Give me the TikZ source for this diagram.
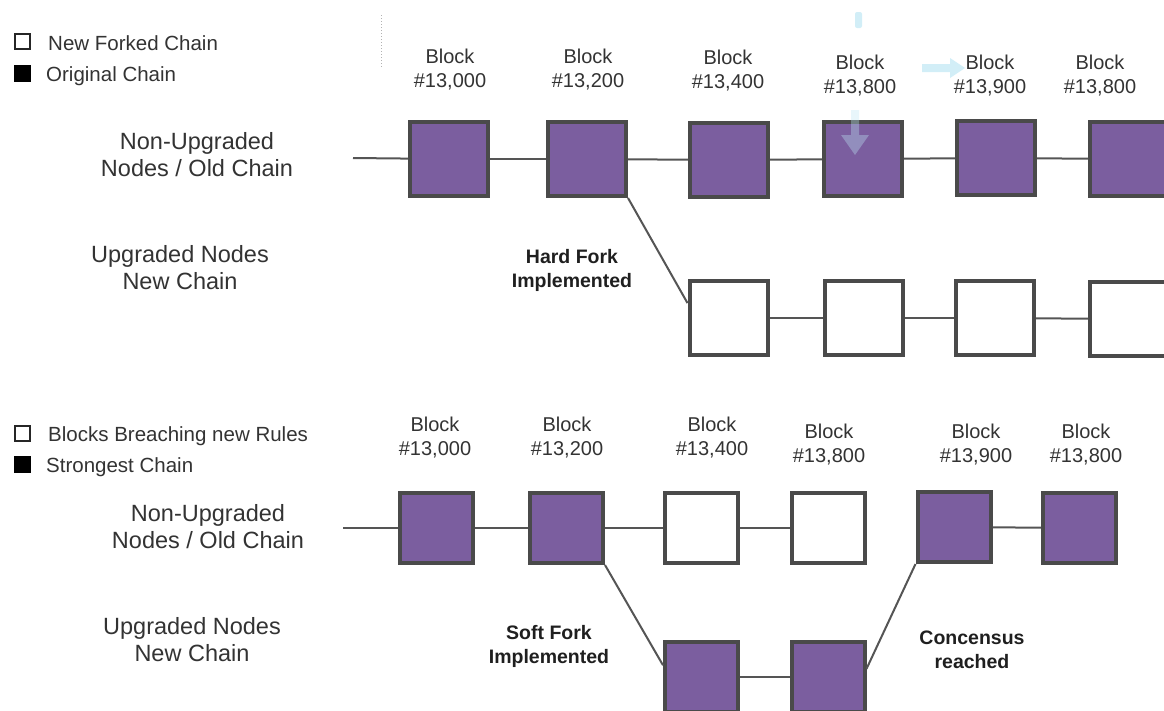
\documentclass[tikz,border=0pt]{standalone}
\usepackage{fontspec}
\setmainfont{Liberation Sans}
\definecolor{blk}{HTML}{7B5E9F}
\definecolor{bord}{HTML}{4A4A4A}
\definecolor{txt}{HTML}{333333}
\definecolor{lnk}{HTML}{555555}
\definecolor{ghost}{HTML}{BFE8F5}
\begin{document}
\begin{tikzpicture}[x=1pt,y=-1pt,
 full/.style={draw=bord,line width=4pt,fill=blk,minimum width=78pt,minimum height=74pt,inner sep=0pt},
 empty/.style={full,fill=white},
 sfull/.style={full,minimum width=73pt,minimum height=70pt},
 sempty/.style={sfull,fill=white},
 lbl/.style={text=txt,align=center,font=\fontsize{20}{24}\selectfont,inner sep=0pt},
 rowlbl/.style={text=txt,align=center,font=\fontsize{23.5}{27}\selectfont,inner sep=0pt},
 boldlbl/.style={text=black!88,align=center,font=\bfseries\fontsize{19.5}{24}\selectfont,inner sep=0pt},
 leg/.style={text=txt,anchor=base west,font=\fontsize{20.5}{24}\selectfont,inner sep=0pt},
 legopen/.style={draw=black!85,line width=2pt,fill=white,minimum size=15pt,inner sep=0pt},
 legfull/.style={fill=black,minimum size=17pt,inner sep=0pt},
 link/.style={draw=lnk,line width=2pt},
]
\useasboundingbox (0,0) rectangle (1164,710);
\clip (0,0) rectangle (1164,710);
\fill[white] (0,0) rectangle (1164,710);

% ---------- top section ----------
\node[legopen] (lgA) at (22,41) {};
\node[leg] (lgAt) at (48,50) {New Forked Chain};
\node[legfull] (lgB) at (22,73) {};
\node[leg] (lgBt) at (46,81) {Original Chain};
\draw[gray!60,line width=1pt,dotted] (381,15) -- (381,68);

% faint screenshot marks
\fill[ghost,opacity=0.7,rounded corners=2pt] (855,12) rectangle (862,28);
\fill[ghost,opacity=0.7] (922,64) -- (950,64) -- (950,58) -- (965,68) -- (950,78) -- (950,72) -- (922,72) -- cycle;

\node[rowlbl] (rowA) at (197,155) {Non-Upgraded\\Nodes / Old Chain};
\node[rowlbl] (rowB) at (180,268) {Upgraded Nodes\\New Chain};

\node[full] (B1) at (449,159) {};
\node[full] (B2) at (587,159) {};
\node[full] (B3) at (729,160) {};
\node[full] (B4) at (863,159) {};
\node[full] (B5) at (996,158) {};
\node[full] (B6) at (1129,159) {};
\fill[ghost,opacity=0.35] (851,110) -- (859,110) -- (859,135) -- (869,135) -- (855,155) -- (841,135) -- (851,135) -- cycle;

\node[lbl] (tB1) at (450,70) {Block\\\#13,000};
\node[lbl] (tB2) at (588,70) {Block\\\#13,200};
\node[lbl] (tB3) at (728,71) {Block\\\#13,400};
\node[lbl] (tB4) at (860,76) {Block\\\#13,800};
\node[lbl] (tB5) at (990,76) {Block\\\#13,900};
\node[lbl] (tB6) at (1100,76) {Block\\\#13,800};

\coordinate (startA) at (353,158);
\draw[link] (startA) -- (B1);
\draw[link] (B1) -- (B2);
\draw[link] (B2) -- (B3);
\draw[link] (B3) -- (B4);
\draw[link] (B4) -- (B5);
\draw[link] (B5) -- (B6);

\node[empty] (N1) at (728.5,318) {};
\node[empty] (N2) at (863.5,318) {};
\node[empty] (N3) at (995,318) {};
\node[empty] (N4) at (1129,319) {};
\draw[link] (N1) -- (N2);
\draw[link] (N2) -- (N3);
\draw[link] (N3) -- (N4);
\draw[link] (B2.south east) -- (N1.160);

\node[boldlbl] (hard) at (572,270) {Hard Fork\\Implemented};

% ---------- bottom section ----------
\node[legopen] (lgC) at (22,433) {};
\node[leg] (lgCt) at (48,441) {Blocks Breaching new Rules};
\node[legfull] (lgD) at (22,464) {};
\node[leg] (lgDt) at (46,472) {Strongest Chain};

\node[rowlbl] (rowC) at (208,527) {Non-Upgraded\\Nodes / Old Chain};
\node[rowlbl] (rowD) at (192,640) {Upgraded Nodes\\New Chain};

\node[sfull] (S1) at (436,528) {};
\node[sfull] (S2) at (566.5,528) {};
\node[sempty] (S3) at (701.5,528) {};
\node[sempty] (S4) at (828,528) {};
\node[sfull] (S5) at (954,527) {};
\node[sfull] (S6) at (1079.5,528) {};

\node[lbl] (tS1) at (435,438) {Block\\\#13,000};
\node[lbl] (tS2) at (567,438) {Block\\\#13,200};
\node[lbl] (tS3) at (712,438) {Block\\\#13,400};
\node[lbl] (tS4) at (829,445) {Block\\\#13,800};
\node[lbl] (tS5) at (976,445) {Block\\\#13,900};
\node[lbl] (tS6) at (1086,445) {Block\\\#13,800};

\coordinate (startC) at (343,528);
\draw[link] (startC) -- (S1);
\draw[link] (S1) -- (S2);
\draw[link] (S2) -- (S3);
\draw[link] (S3) -- (S4);
\draw[link] (S5) -- (S6);

\node[sfull] (L1) at (701.5,677) {};
\node[sfull] (L2) at (828,677) {};
\draw[link] (L1) -- (L2);
\draw[link] (S2.south east) -- (L1.163);
\draw[link] (L2.12) -- (S5.south west);

\node[boldlbl] (soft) at (549,646) {Soft Fork\\Implemented};
\node[boldlbl] (cons) at (972,650) {Concensus\\reached};
\end{tikzpicture}
\end{document}
